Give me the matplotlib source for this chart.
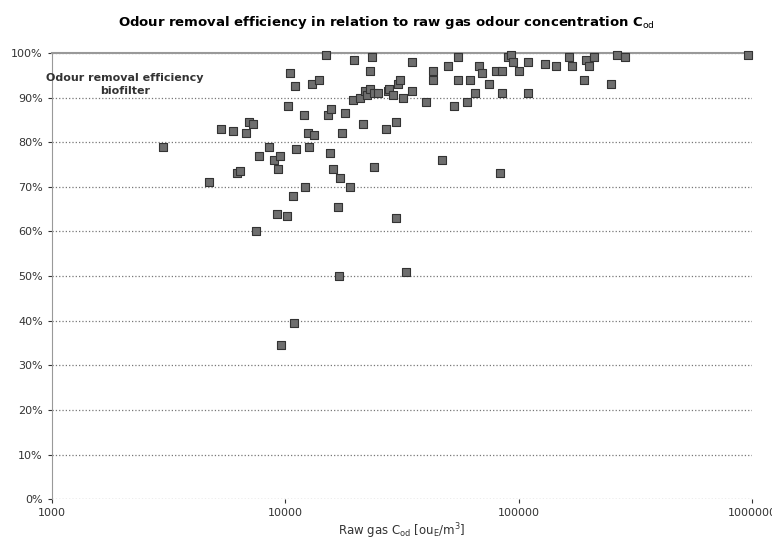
import matplotlib
matplotlib.use("Agg")
import matplotlib.pyplot as plt
from matplotlib.ticker import FuncFormatter, FixedLocator

pts = [(3000,79),(4700,71),(5300,83),(6000,82.5),(6200,73),(6400,73.5),(6800,82),(7000,84.5),(7300,84),(7500,60),(7700,77),(8500,79),(9000,76),(9300,74),(9500,77),(9600,34.5),(9200,64),(10200,63.5),(10300,88),(10500,95.5),(10800,68),(10900,39.5),(11000,92.5),(11100,78.5),(12000,86),(12200,70),(12500,82),(12700,79),(13000,93),(13300,81.5),(14000,94),(15000,99.5),(15200,86),(15500,77.5),(15800,87.5),(16000,74),(16800,65.5),(17000,50),(17200,72),(17500,82),(18000,86.5),(19000,70),(19500,89.5),(19700,98.5),(21000,90),(21500,84),(22000,91.5),(22500,90.5),(23000,92),(23500,99),(23000,96),(24000,74.5),(24000,91),(25000,91),(27000,83),(27500,91.5),(28000,92),(29000,90.5),(30000,63),(30000,84.5),(30500,93),(31000,94),(32000,90),(33000,51),(35000,98),(35000,91.5),(40000,89),(43000,96),(43000,94),(47000,76),(50000,97),(53000,88),(55000,99),(55000,94),(60000,89),(62000,94),(65000,91),(68000,97),(70000,95.5),(75000,93),(80000,96),(83000,73),(85000,91),(85000,96),(90000,99),(93000,99.5),(95000,98),(100000,96),(110000,98),(110000,91),(130000,97.5),(145000,97),(165000,99),(170000,97),(190000,94),(195000,98.5),(200000,97),(210000,99),(250000,93),(265000,99.5),(285000,99),(960000,99.5)]
raw_gas = [p[0] for p in pts]
efficiency = [p[1] for p in pts]

fig = plt.figure(figsize=(7.72, 5.51), dpi=100)
ax = fig.add_axes([0.067, 0.094, 0.907, 0.81])
ax.scatter(raw_gas, efficiency, marker='s', s=28, facecolor='#6e6e6e', edgecolor='#333333', linewidth=0.8, zorder=3, clip_on=False)
ax.set_xscale('log')
ax.set_xlim(1000, 1000000)
ax.set_ylim(0, 100)
ax.xaxis.set_major_locator(FixedLocator([1000, 10000, 100000, 1000000]))
ax.xaxis.set_minor_locator(FixedLocator([]))
ax.xaxis.set_major_formatter(FuncFormatter(lambda v, p: f"{int(v)}"))
ax.set_yticks(range(0, 101, 10))
ax.yaxis.set_major_formatter(FuncFormatter(lambda v, p: f"{int(v)}%"))
ax.grid(axis='y', linestyle=':', color='#777777', linewidth=0.9)
for s in ['right', 'bottom']:
    ax.spines[s].set_visible(False)
ax.spines['top'].set_color('#999999')
ax.spines['top'].set_linewidth(1.5)
ax.spines['left'].set_color('#999999')
ax.tick_params(labelsize=8, colors='#333333', length=3)
ax.set_xlabel(r"Raw gas C$_{\rm od}$ [ou$_{\rm E}$/m$^3$]", fontsize=8.5, color='#333333', labelpad=2)
fig.suptitle(r"Odour removal efficiency in relation to raw gas odour concentration C$_{\rm od}$", fontsize=9.5, fontweight='bold', y=0.975)
ax.text(0.105, 0.955, "Odour removal efficiency\nbiofilter", transform=ax.transAxes, ha='center', va='top', fontsize=8, fontweight='bold', color='#333333', linespacing=1.4)
fig.savefig("out.png")
